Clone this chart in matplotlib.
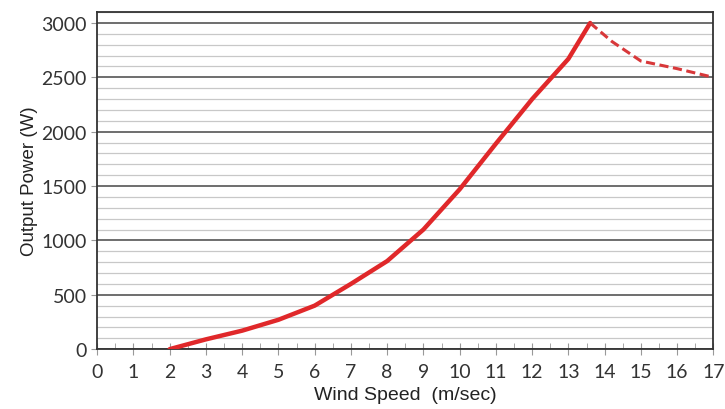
import matplotlib
matplotlib.use("Agg")
import matplotlib.pyplot as plt
from matplotlib.ticker import MultipleLocator

# power curve (solid part, up to rated peak)
wind_solid = [2, 3, 4, 5, 6, 7, 8, 9, 10, 11, 12, 13, 13.6]
power_solid = [0, 90, 170, 270, 400, 600, 810, 1100, 1470, 1890, 2300, 2670, 3000]

# furling region (dashed)
wind_dash = [13.6, 14.2, 15, 16, 17]
power_dash = [3000, 2830, 2650, 2580, 2500]

fig = plt.figure(figsize=(7.25, 4.1), dpi=100)
ax = fig.add_axes([0.134, 0.146, 0.85, 0.822])

ax.plot(wind_solid, power_solid, color="#e0282a", lw=3.2, solid_capstyle="round", zorder=3)
ax.plot(wind_dash, power_dash, color="#d8383a", lw=2.2, ls=(0, (3, 1.5)), zorder=3)

ax.set_xlim(0, 17)
ax.set_ylim(0, 3100)
ax.xaxis.set_major_locator(MultipleLocator(1))
ax.xaxis.set_minor_locator(MultipleLocator(0.5))
ax.yaxis.set_major_locator(MultipleLocator(500))
ax.yaxis.set_minor_locator(MultipleLocator(100))

ax.grid(which="major", axis="y", color="#555555", lw=1.2)
ax.grid(which="minor", axis="y", color="#c8c8c8", lw=0.9)
ax.set_axisbelow(True)

for s in ax.spines.values():
    s.set_color("#333333")
    s.set_linewidth(1.3)

ax.tick_params(axis="x", which="major", direction="inout", length=8, color="#999999",
               labelsize=14, pad=6, labelcolor="#333333")
ax.tick_params(axis="x", which="minor", direction="in", length=4, color="#999999")
ax.tick_params(axis="y", which="major", direction="out", length=4, color="#999999",
               labelsize=14, labelcolor="#333333")
ax.tick_params(axis="y", which="minor", length=0)

for lab in ax.get_xticklabels() + ax.get_yticklabels():
    lab.set_family("Lato")

ax.set_xlabel("Wind Speed  (m/sec)", fontsize=14, family="Liberation Sans", labelpad=4, color="#222222")
ax.set_ylabel("Output Power (W)", fontsize=13.5, family="Liberation Sans", labelpad=2, color="#222222")

fig.savefig("out.png", dpi=100)
